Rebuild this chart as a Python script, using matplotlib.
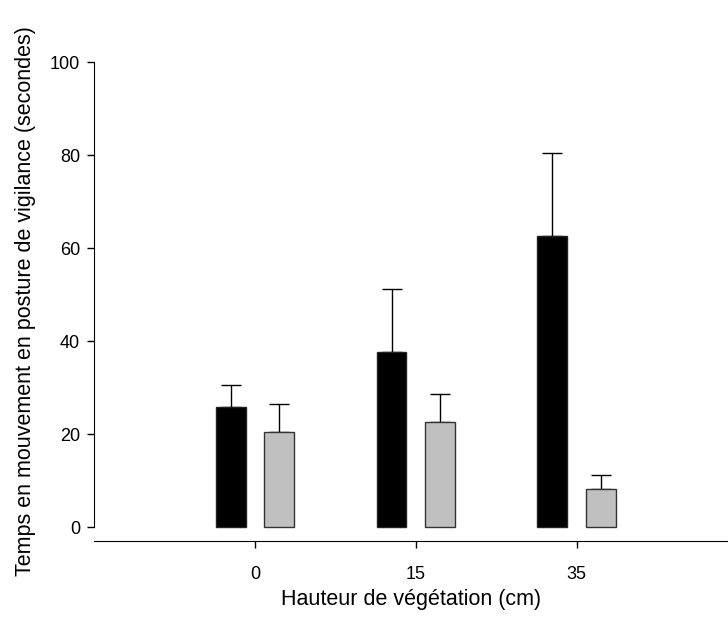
import numpy as np
import matplotlib.pyplot as plt

plt.rcParams['font.family'] = ['Liberation Sans', 'DejaVu Sans']

### Data ###
heights = ['0', '15', '35']
black_mean = [25.9, 37.6, 62.6]
black_err = [4.7, 13.6, 17.9]
gray_mean = [20.5, 22.6, 8.1]
gray_err = [6.0, 6.1, 3.0]

### Plot ###
fig = plt.figure(figsize=(7.28, 6.17), dpi=100)
ax = fig.add_axes([0.1291, 0.1232, 0.8709, 0.7763])

x = np.arange(len(heights))
w = 0.186
off = 0.151

ax.bar(x - off, black_mean, w, color='black', edgecolor='#222222', linewidth=1, zorder=2)
ax.bar(x + off, gray_mean, w, color='#c0c0c0', edgecolor='#333333', linewidth=1, zorder=2)
ax.errorbar(x - off, black_mean, yerr=[np.zeros(3), black_err], fmt='none',
            ecolor='black', elinewidth=1, capsize=7, capthick=1, zorder=1)
ax.errorbar(x + off, gray_mean, yerr=[np.zeros(3), gray_err], fmt='none',
            ecolor='black', elinewidth=1, capsize=7, capthick=1, zorder=1)

ax.set_xlim(-1.0, 2.94)
ax.set_ylim(-3, 100)

ax.spines['top'].set_visible(False)
ax.spines['right'].set_visible(False)
ax.spines['left'].set_bounds(0, 100)

ax.set_yticks([0, 20, 40, 60, 80, 100])
ax.set_xticks(x)
ax.set_xticklabels(heights)
ax.tick_params(axis='both', direction='out', length=5, width=1, labelsize=13)
ax.tick_params(axis='y', pad=5)
ax.tick_params(axis='x', pad=13)

ax.set_xlabel('Hauteur de végétation (cm)', fontsize=15.5, labelpad=4)
ax.set_ylabel('Temps en mouvement en posture de vigilance (secondes)', fontsize=15.5, labelpad=10)

fig.savefig('out.png', dpi=100)
